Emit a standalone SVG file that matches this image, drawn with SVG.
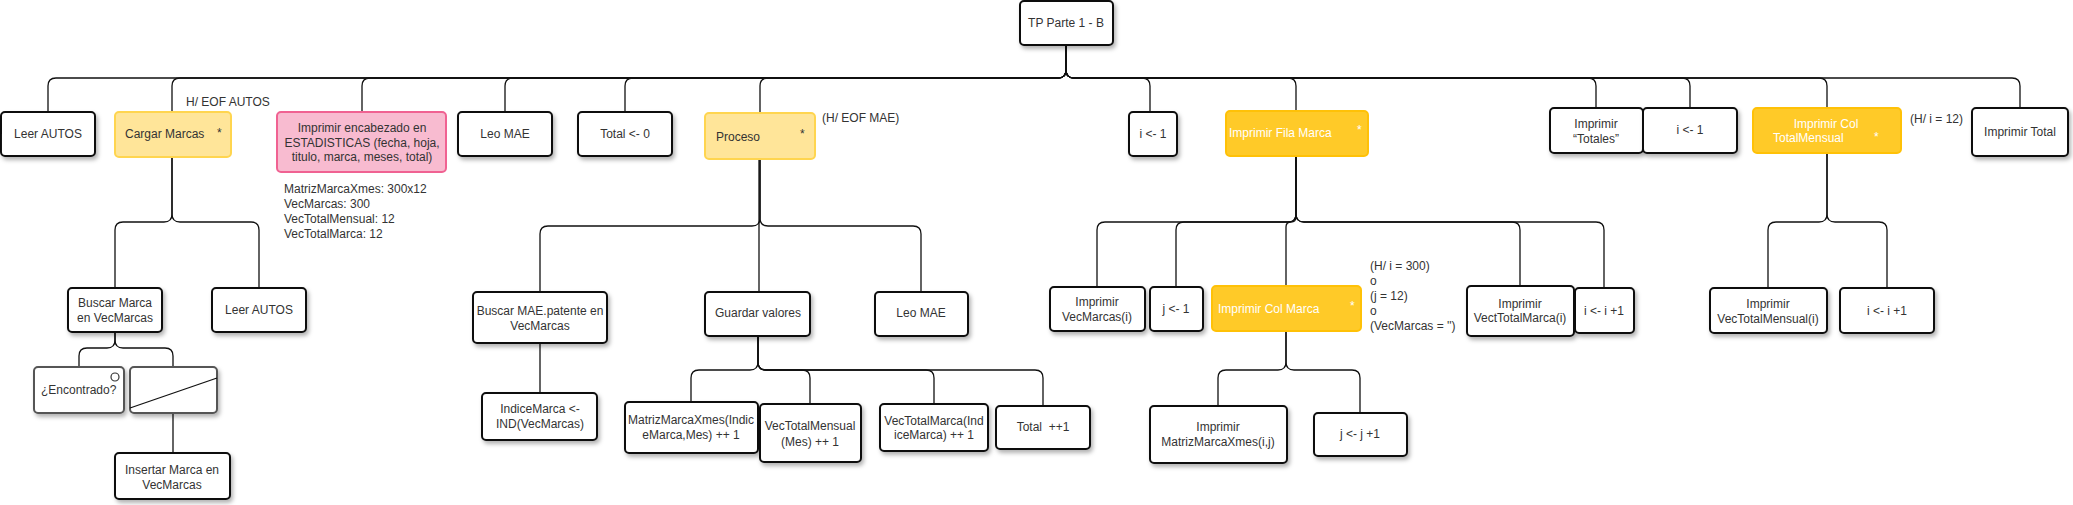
<svg xmlns="http://www.w3.org/2000/svg" width="2073" height="505" viewBox="0 0 2073 505">
<style>
text{font-family:"Liberation Sans",Arial,sans-serif;font-size:12px;fill:#333}
.c{text-anchor:middle}
.w{fill:#fff}
.box{fill:#fff;stroke:#111;stroke-width:2;filter:url(#sh)}
.gbox{fill:#fff;stroke:#555;stroke-width:2;filter:url(#sh)}
.yel{fill:#FFE599;stroke:#FFD54F;stroke-width:2}
.pink{fill:#F8BBD0;stroke:#F06292;stroke-width:2}
.org{fill:#FFCA28;stroke:#FFC107;stroke-width:2}
.conn path{fill:none;stroke:#111;stroke-width:1.3}
</style>
<defs>
<filter id="sh" x="-15%" y="-15%" width="140%" height="150%">
<feDropShadow dx="2" dy="3" stdDeviation="2" flood-color="#000" flood-opacity="0.3"/>
</filter>
</defs>
<rect width="2073" height="505" fill="#fff"/>
<g class="conn" id="connectors">
<path d="M1066 45V70Q1066 78 1058 78H56Q48 78 48 86V112"/>
<path d="M1066 45V70Q1066 78 1058 78H180Q172 78 172 86V112"/>
<path d="M1066 45V70Q1066 78 1058 78H370Q362 78 362 86V112"/>
<path d="M1066 45V70Q1066 78 1058 78H513Q505 78 505 86V112"/>
<path d="M1066 45V70Q1066 78 1058 78H633Q625 78 625 86V112"/>
<path d="M1066 45V70Q1066 78 1058 78H768Q760 78 760 86V113"/>
<path d="M1066 45V70Q1066 78 1074 78H1142Q1150 78 1150 86V112"/>
<path d="M1066 45V70Q1066 78 1074 78H1288Q1296 78 1296 86V111"/>
<path d="M1066 45V70Q1066 78 1074 78H1588Q1596 78 1596 86V108"/>
<path d="M1066 45V70Q1066 78 1074 78H1682Q1690 78 1690 86V108"/>
<path d="M1066 45V70Q1066 78 1074 78H1819Q1827 78 1827 86V108"/>
<path d="M1066 45V70Q1066 78 1074 78H2012Q2020 78 2020 86V108"/>
<path d="M172 157V214Q172 222 164 222H123Q115 222 115 230V288"/>
<path d="M172 157V214Q172 222 180 222H251Q259 222 259 230V288"/>
<path d="M115 332V340Q115 348 107 348H87Q79 348 79 356V367"/>
<path d="M115 332V340Q115 348 123 348H165Q173 348 173 356V367"/>
<path d="M173 413V453"/>
<path d="M760 159V218Q760 226 752 226H548Q540 226 540 234V292"/>
<path d="M759 159V292"/>
<path d="M760 159V218Q760 226 768 226H913Q921 226 921 234V292"/>
<path d="M540 343V393"/>
<path d="M758 336V362Q758 370 750 370H699Q691 370 691 378V402"/>
<path d="M758 336V362Q758 370 766 370H802Q810 370 810 378V404"/>
<path d="M758 336V362Q758 370 766 370H926Q934 370 934 378V404"/>
<path d="M758 336V362Q758 370 766 370H1035Q1043 370 1043 378V406"/>
<path d="M1296 156V214Q1296 222 1288 222H1105Q1097 222 1097 230V287"/>
<path d="M1296 156V214Q1296 222 1288 222H1184Q1176 222 1176 230V287"/>
<path d="M1296 156V217Q1296 222 1291 222Q1286 222 1286 227V286"/>
<path d="M1296 156V214Q1296 222 1304 222H1512Q1520 222 1520 230V286"/>
<path d="M1296 156V214Q1296 222 1304 222H1596Q1604 222 1604 230V288"/>
<path d="M1286 331V362Q1286 370 1278 370H1226Q1218 370 1218 378V406"/>
<path d="M1286 331V362Q1286 370 1294 370H1352Q1360 370 1360 378V413"/>
<path d="M1827 153V214Q1827 222 1819 222H1776Q1768 222 1768 230V288"/>
<path d="M1827 153V214Q1827 222 1835 222H1879Q1887 222 1887 230V288"/>
</g>
<g id="root"><rect class="box" x="1020" y="1" width="93" height="44" rx="4"/><text class="c" x="1066" y="27">TP Parte 1 - B</text></g>
<g id="leer-autos-1"><rect class="box" x="1" y="112" width="94" height="44" rx="4"/><text class="c" x="48" y="138">Leer AUTOS</text></g>
<g id="cargar-marcas"><rect class="yel" x="115" y="112" width="116" height="45" rx="4"/><text x="125" y="138">Cargar Marcas</text><text x="217" y="137">*</text></g>
<text x="186" y="106">H/ EOF AUTOS</text>
<g id="imprimir-enc"><rect class="pink" x="277" y="112" width="169" height="60" rx="4"/><text class="c" x="362" y="132">Imprimir encabezado en</text><text class="c" x="362" y="146.5">ESTADISTICAS (fecha, hoja,</text><text class="c" x="362" y="161">titulo, marca, meses, total)</text></g>
<g id="notas"><text x="284" y="193">MatrizMarcaXmes: 300x12</text><text x="284" y="208">VecMarcas: 300</text><text x="284" y="223">VecTotalMensual: 12</text><text x="284" y="238">VecTotalMarca: 12</text></g>
<g id="leo-mae-1"><rect class="box" x="458" y="112" width="94" height="44" rx="4"/><text class="c" x="505" y="138">Leo MAE</text></g>
<g id="total-0"><rect class="box" x="578" y="112" width="94" height="44" rx="4"/><text class="c" x="625" y="138">Total &lt;- 0</text></g>
<g id="proceso"><rect class="yel" x="705" y="113" width="110" height="46" rx="4"/><text x="716" y="141">Proceso</text><text x="800" y="138">*</text></g>
<text x="822" y="122">(H/ EOF MAE)</text>
<g id="i-1"><rect class="box" x="1129" y="112" width="48" height="44" rx="4"/><text class="c" x="1153" y="138">i &lt;- 1</text></g>
<g id="fila-marca"><rect class="org" x="1226" y="111" width="142" height="45" rx="4"/><text class="w" x="1229" y="137">Imprimir Fila Marca</text><text class="w" x="1357" y="134">*</text></g>
<g id="totales"><rect class="box" x="1550" y="108" width="93" height="45" rx="4"/><text class="c" x="1596" y="128">Imprimir</text><text class="c" x="1596" y="143">“Totales”</text></g>
<g id="i-1b"><rect class="box" x="1643" y="108" width="94" height="45" rx="4"/><text class="c" x="1690" y="134">i &lt;- 1</text></g>
<g id="col-totalmensual"><rect class="org" x="1753" y="108" width="148" height="45" rx="4"/><text class="w c" x="1826" y="128">Imprimir Col</text><text class="w" x="1773" y="142">TotalMensual</text><text class="w" x="1874" y="141">*</text></g>
<text x="1910" y="123">(H/ i = 12)</text>
<g id="imprimir-total"><rect class="box" x="1972" y="108" width="96" height="48" rx="4"/><text class="c" x="2020" y="136">Imprimir Total</text></g>
<g id="buscar-marca"><rect class="box" x="68" y="288" width="94" height="44" rx="4"/><text class="c" x="115" y="307">Buscar Marca</text><text class="c" x="115" y="322">en VecMarcas</text></g>
<g id="leer-autos-2"><rect class="box" x="212" y="288" width="94" height="44" rx="4"/><text class="c" x="259" y="314">Leer AUTOS</text></g>
<g id="encontrado"><rect class="gbox" x="34" y="367" width="90" height="46" rx="4"/><circle cx="115" cy="377" r="4" fill="none" stroke="#333" stroke-width="1.2"/><text x="41" y="394">¿Encontrado?</text></g>
<g id="sino"><rect class="gbox" x="130" y="367" width="87" height="46" rx="4"/><path d="M130 408L217 378" stroke="#111" stroke-width="1.3" fill="none"/></g>
<g id="insertar"><rect class="box" x="115" y="453" width="115" height="46" rx="4"/><text class="c" x="172" y="474">Insertar Marca en</text><text class="c" x="172" y="489">VecMarcas</text></g>
<g id="buscar-mae"><rect class="box" x="473" y="292" width="134" height="51" rx="4"/><text class="c" x="540" y="315">Buscar MAE.patente en</text><text class="c" x="540" y="330">VecMarcas</text></g>
<g id="guardar"><rect class="box" x="705" y="292" width="105" height="44" rx="4"/><text class="c" x="758" y="317">Guardar valores</text></g>
<g id="leo-mae-2"><rect class="box" x="875" y="292" width="93" height="44" rx="4"/><text class="c" x="921" y="317">Leo MAE</text></g>
<g id="indice"><rect class="box" x="482" y="393" width="115" height="47" rx="4"/><text class="c" x="540" y="413">IndiceMarca &lt;-</text><text class="c" x="540" y="428">IND(VecMarcas)</text></g>
<g id="matriz-inc"><rect class="box" x="625" y="402" width="133" height="51" rx="4"/><text class="c" x="691" y="424">MatrizMarcaXmes(Indic</text><text class="c" x="691" y="439">eMarca,Mes) ++ 1</text></g>
<g id="vtm-inc"><rect class="box" x="760" y="404" width="101" height="58" rx="4"/><text class="c" x="810" y="430">VecTotalMensual</text><text class="c" x="810" y="446">(Mes) ++ 1</text></g>
<g id="vtmarca-inc"><rect class="box" x="880" y="404" width="108" height="47" rx="4"/><text class="c" x="934" y="425">VecTotalMarca(Ind</text><text class="c" x="934" y="439">iceMarca) ++ 1</text></g>
<g id="total-inc"><rect class="box" x="996" y="406" width="94" height="43" rx="4"/><text class="c" x="1043" y="431" xml:space="preserve">Total  ++1</text></g>
<g id="imp-vecmarcas"><rect class="box" x="1050" y="287" width="95" height="44" rx="4"/><text class="c" x="1097" y="306">Imprimir</text><text class="c" x="1097" y="321">VecMarcas(i)</text></g>
<g id="j-1"><rect class="box" x="1150" y="287" width="53" height="44" rx="4"/><text class="c" x="1176" y="313">j &lt;- 1</text></g>
<g id="col-marca"><rect class="org" x="1212" y="286" width="149" height="45" rx="4"/><text class="w" x="1218" y="313">Imprimir Col Marca</text><text class="w" x="1350" y="310">*</text></g>
<g id="cond"><text x="1370" y="270">(H/ i = 300)</text><text x="1370" y="285">o</text><text x="1370" y="300">(j = 12)</text><text x="1370" y="315">o</text><text x="1370" y="330">(VecMarcas = '')</text></g>
<g id="imp-vtmarca"><rect class="box" x="1467" y="286" width="107" height="50" rx="4"/><text class="c" x="1520" y="308">Imprimir</text><text class="c" x="1520" y="322">VectTotalMarca(i)</text></g>
<g id="i-inc"><rect class="box" x="1575" y="288" width="59" height="45" rx="4"/><text class="c" x="1604" y="315">i &lt;- i +1</text></g>
<g id="imp-matriz"><rect class="box" x="1150" y="406" width="137" height="57" rx="4"/><text class="c" x="1218" y="431">Imprimir</text><text class="c" x="1218" y="446">MatrizMarcaXmes(i,j)</text></g>
<g id="j-inc"><rect class="box" x="1314" y="413" width="93" height="43" rx="4"/><text class="c" x="1360" y="438">j &lt;- j +1</text></g>
<g id="imp-vtmensual"><rect class="box" x="1710" y="288" width="117" height="45" rx="4"/><text class="c" x="1768" y="308">Imprimir</text><text class="c" x="1768" y="323">VecTotalMensual(i)</text></g>
<g id="i-inc-2"><rect class="box" x="1840" y="288" width="94" height="45" rx="4"/><text class="c" x="1887" y="315">i &lt;- i +1</text></g>
</svg>
